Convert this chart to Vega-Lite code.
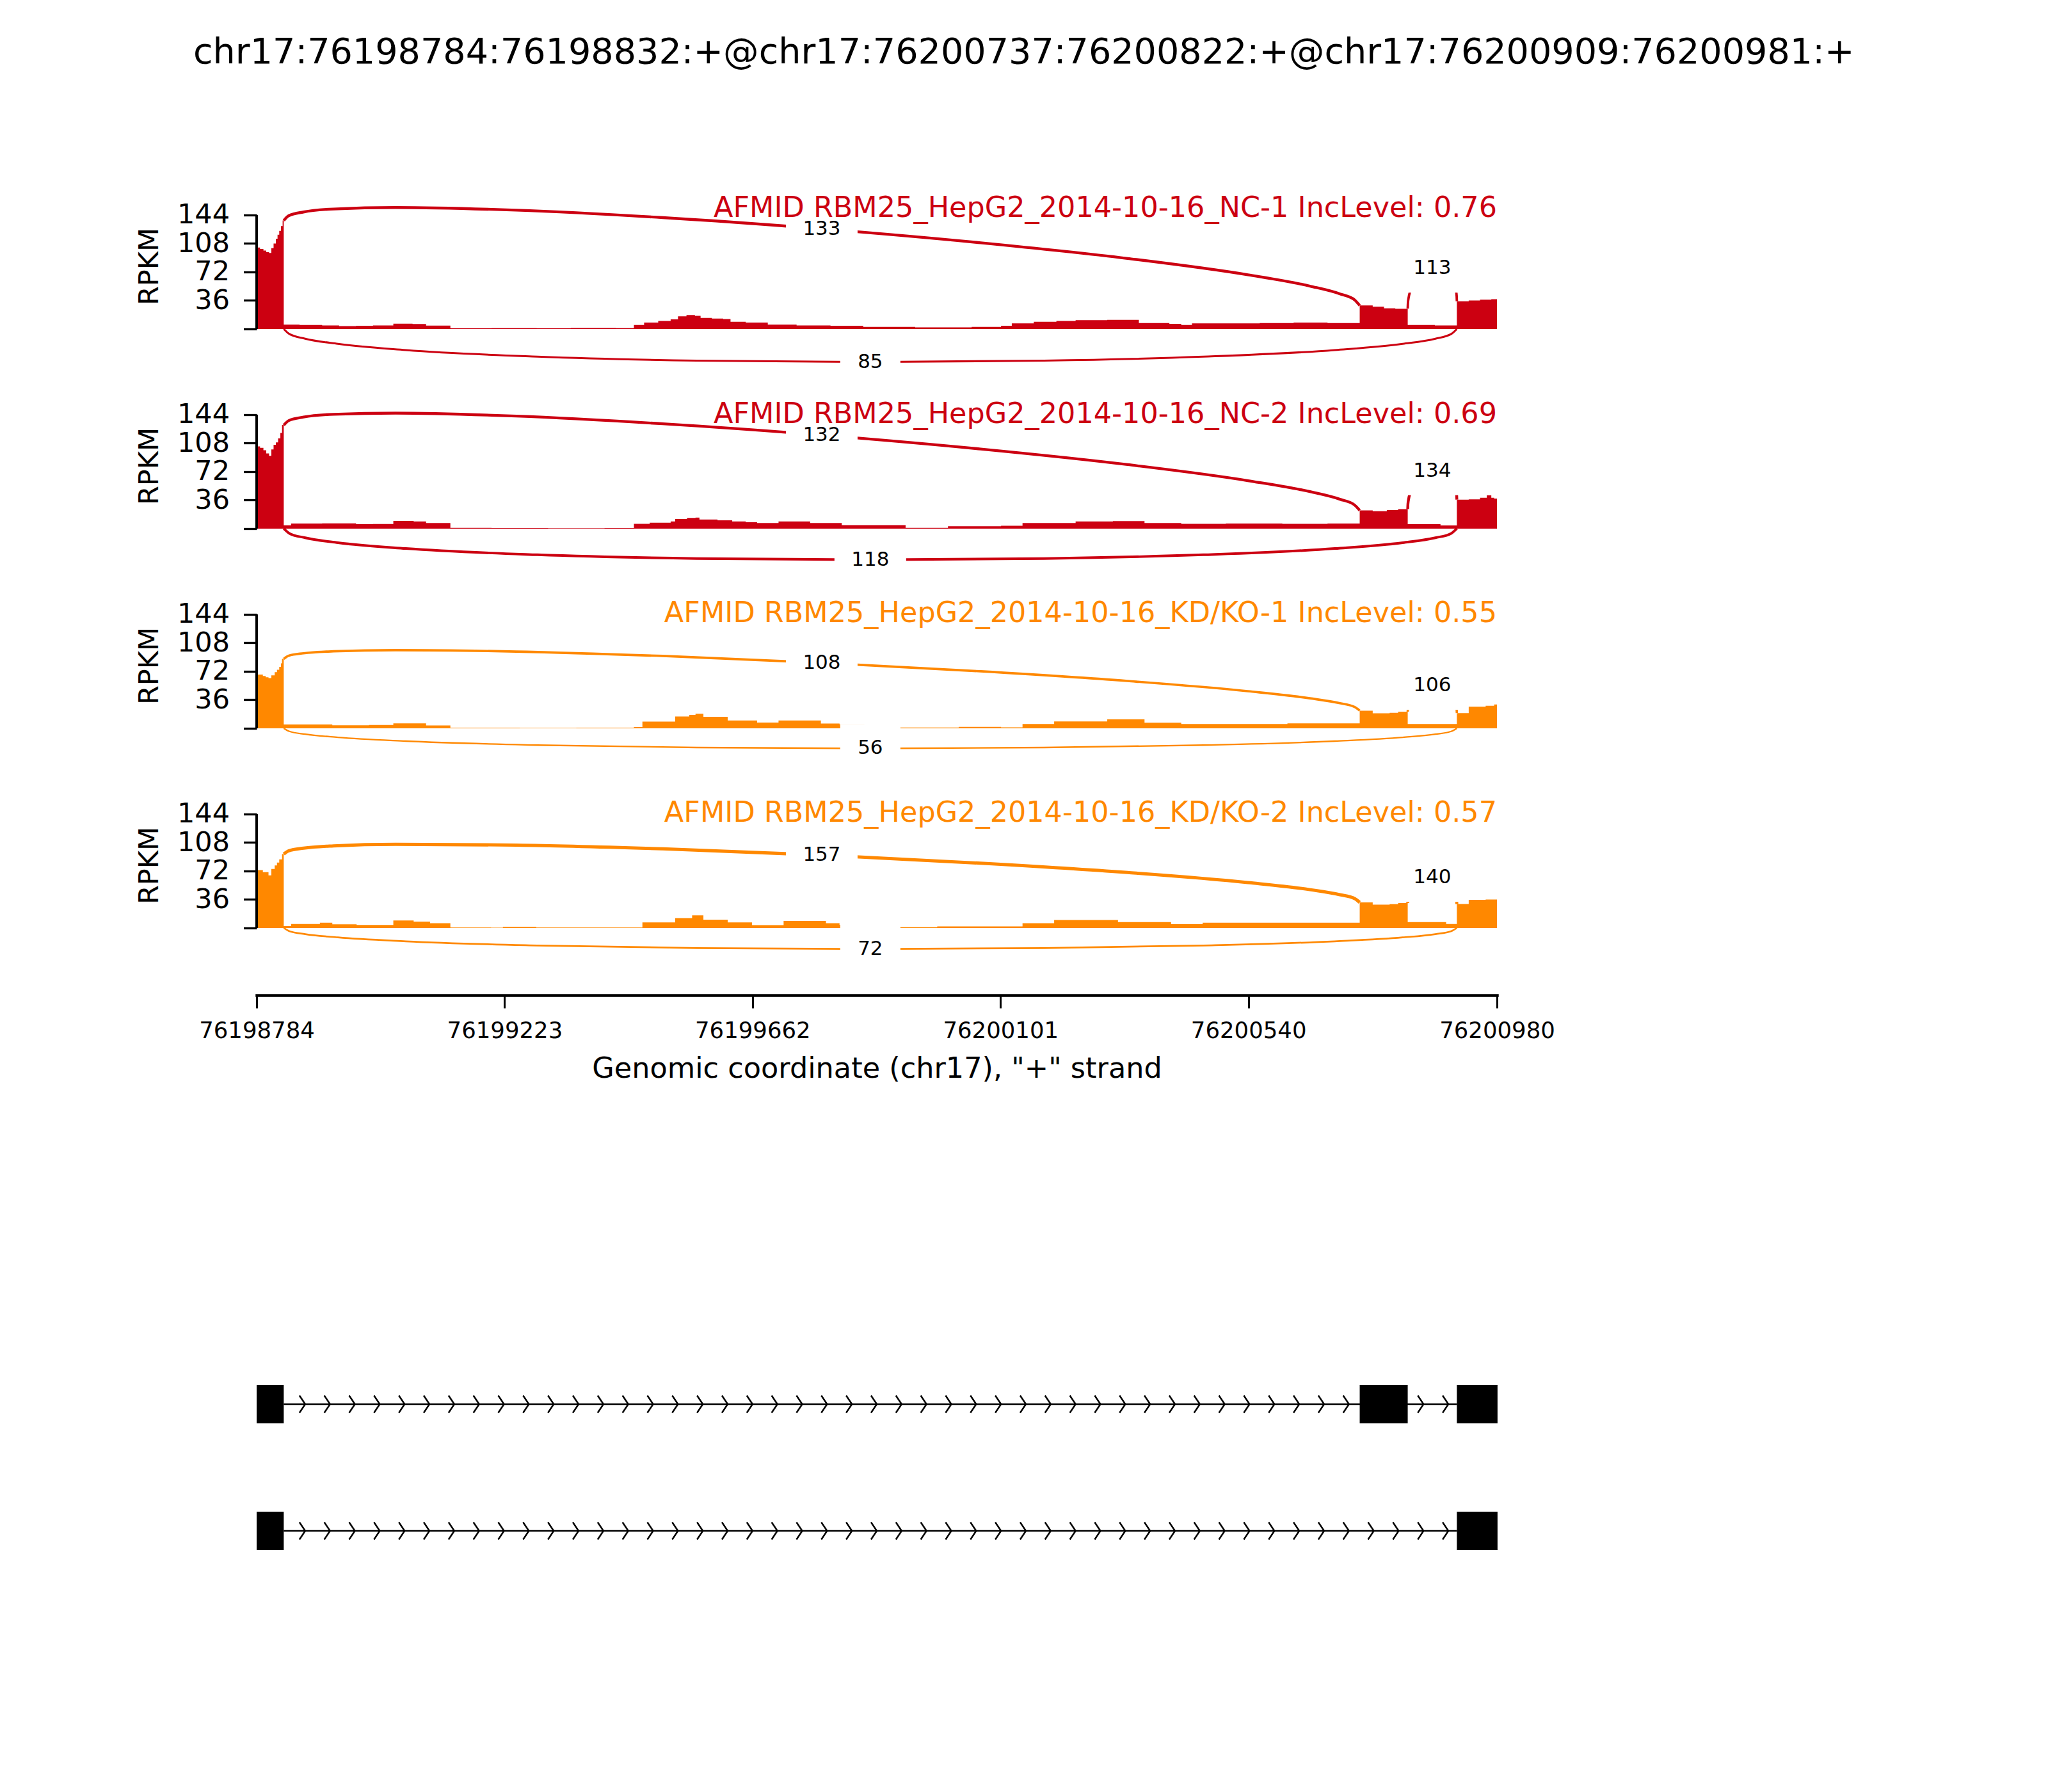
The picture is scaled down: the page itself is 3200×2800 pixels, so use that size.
{
"$schema": "https://vega.github.io/schema/vega-lite/v6.json",
"background": "white",
"padding": {"left": 212, "top": 55, "right": 40, "bottom": 40},
"title": {"text": "chr17:76198784:76198832:+@chr17:76200737:76200822:+@chr17:76200909:76200981:+", "anchor": "start", "frame": "group", "dx": -99, "offset": 148, "baseline": "alphabetic", "fontSize": 55.6, "fontWeight": "normal", "color": "black", "font": "DejaVu Sans"},
"config": {"view": {"stroke": null}, "font": "DejaVu Sans", "axis": {"grid": false, "labelColor": "black", "titleColor": "black", "tickColor": "black", "domainColor": "black", "titleFontWeight": "normal", "labelOverlap": false, "labelLimit": 400, "labelFont": "DejaVu Sans", "titleFont": "DejaVu Sans"}},
"datasets": {
"cov": [
{"s":1,"pos":76198784,"v":103},{"s":1,"pos":76198790,"v":101},{"s":1,"pos":76198796,"v":99},{"s":1,"pos":76198801,"v":97},{"s":1,"pos":76198806,"v":96},{"s":1,"pos":76198810,"v":102},{"s":1,"pos":76198814,"v":108},{"s":1,"pos":76198818,"v":114},{"s":1,"pos":76198821,"v":119},{"s":1,"pos":76198824,"v":124},{"s":1,"pos":76198827,"v":130},{"s":1,"pos":76198830,"v":137},{"s":1,"pos":76198832,"v":5.4},{"s":1,"pos":76198860,"v":5},{"s":1,"pos":76198900,"v":4.5},{"s":1,"pos":76198930,"v":3.5},{"s":1,"pos":76198960,"v":4},{"s":1,"pos":76198990,"v":4.5},{"s":1,"pos":76199026,"v":6.7},{"s":1,"pos":76199060,"v":6.2},{"s":1,"pos":76199084,"v":4.3},{"s":1,"pos":76199127,"v":0.8},{"s":1,"pos":76199200,"v":1},{"s":1,"pos":76199280,"v":0.8},{"s":1,"pos":76199340,"v":1.2},{"s":1,"pos":76199420,"v":1},{"s":1,"pos":76199452,"v":5},{"s":1,"pos":76199470,"v":8},{"s":1,"pos":76199495,"v":10},{"s":1,"pos":76199517,"v":12},{"s":1,"pos":76199530,"v":16},{"s":1,"pos":76199545,"v":17.5},{"s":1,"pos":76199560,"v":16.5},{"s":1,"pos":76199570,"v":14},{"s":1,"pos":76199590,"v":13},{"s":1,"pos":76199610,"v":12.5},{"s":1,"pos":76199623,"v":9},{"s":1,"pos":76199650,"v":8},{"s":1,"pos":76199689,"v":5.5},{"s":1,"pos":76199740,"v":4.5},{"s":1,"pos":76199800,"v":4},{"s":1,"pos":76199858,"v":2.5},{"s":1,"pos":76199950,"v":2},{"s":1,"pos":76200050,"v":2.5},{"s":1,"pos":76200102,"v":4},{"s":1,"pos":76200121,"v":7},{"s":1,"pos":76200160,"v":9},{"s":1,"pos":76200200,"v":10},{"s":1,"pos":76200234,"v":11},{"s":1,"pos":76200290,"v":11.5},{"s":1,"pos":76200346,"v":7.5},{"s":1,"pos":76200400,"v":6.5},{"s":1,"pos":76200421,"v":5},{"s":1,"pos":76200440,"v":7},{"s":1,"pos":76200500,"v":7},{"s":1,"pos":76200560,"v":7.5},{"s":1,"pos":76200620,"v":8},{"s":1,"pos":76200680,"v":7.5},{"s":1,"pos":76200737,"v":29.6},{"s":1,"pos":76200760,"v":28},{"s":1,"pos":76200780,"v":26},{"s":1,"pos":76200800,"v":25.5},{"s":1,"pos":76200822,"v":5},{"s":1,"pos":76200870,"v":4.5},{"s":1,"pos":76200909,"v":35},{"s":1,"pos":76200930,"v":36},{"s":1,"pos":76200950,"v":37},{"s":1,"pos":76200970,"v":37.6},{"s":1,"pos":76200980,"v":37.6},
{"s":2,"pos":76198784,"v":104},{"s":2,"pos":76198790,"v":102},{"s":2,"pos":76198796,"v":99},{"s":2,"pos":76198801,"v":95},{"s":2,"pos":76198806,"v":92},{"s":2,"pos":76198810,"v":100},{"s":2,"pos":76198814,"v":106},{"s":2,"pos":76198818,"v":109},{"s":2,"pos":76198822,"v":114},{"s":2,"pos":76198826,"v":121},{"s":2,"pos":76198829,"v":131},{"s":2,"pos":76198832,"v":4.3},{"s":2,"pos":76198845,"v":6.4},{"s":2,"pos":76198900,"v":6.6},{"s":2,"pos":76198960,"v":5.7},{"s":2,"pos":76198990,"v":5.8},{"s":2,"pos":76199026,"v":9.7},{"s":2,"pos":76199062,"v":9},{"s":2,"pos":76199084,"v":7},{"s":2,"pos":76199127,"v":1},{"s":2,"pos":76199200,"v":0.8},{"s":2,"pos":76199300,"v":0.6},{"s":2,"pos":76199400,"v":0.8},{"s":2,"pos":76199452,"v":6},{"s":2,"pos":76199480,"v":7.5},{"s":2,"pos":76199517,"v":9},{"s":2,"pos":76199525,"v":12},{"s":2,"pos":76199546,"v":13.5},{"s":2,"pos":76199561,"v":14},{"s":2,"pos":76199568,"v":11.5},{"s":2,"pos":76199600,"v":10.5},{"s":2,"pos":76199626,"v":9},{"s":2,"pos":76199650,"v":8},{"s":2,"pos":76199670,"v":7},{"s":2,"pos":76199708,"v":9},{"s":2,"pos":76199764,"v":7},{"s":2,"pos":76199820,"v":4.5},{"s":2,"pos":76199933,"v":1},{"s":2,"pos":76200008,"v":3},{"s":2,"pos":76200102,"v":3.5},{"s":2,"pos":76200140,"v":7},{"s":2,"pos":76200234,"v":9},{"s":2,"pos":76200300,"v":9.5},{"s":2,"pos":76200356,"v":7},{"s":2,"pos":76200421,"v":6},{"s":2,"pos":76200500,"v":6.5},{"s":2,"pos":76200600,"v":6},{"s":2,"pos":76200680,"v":6.5},{"s":2,"pos":76200737,"v":23},{"s":2,"pos":76200760,"v":22},{"s":2,"pos":76200785,"v":23.5},{"s":2,"pos":76200805,"v":24.6},{"s":2,"pos":76200822,"v":5.7},{"s":2,"pos":76200880,"v":4},{"s":2,"pos":76200909,"v":36.6},{"s":2,"pos":76200930,"v":37},{"s":2,"pos":76200950,"v":39},{"s":2,"pos":76200962,"v":42},{"s":2,"pos":76200970,"v":39},{"s":2,"pos":76200975,"v":38},{"s":2,"pos":76200980,"v":38},
{"s":3,"pos":76198784,"v":68},{"s":3,"pos":76198795,"v":66},{"s":3,"pos":76198800,"v":64.5},{"s":3,"pos":76198805,"v":63.5},{"s":3,"pos":76198810,"v":67},{"s":3,"pos":76198816,"v":71},{"s":3,"pos":76198820,"v":74},{"s":3,"pos":76198824,"v":77.6},{"s":3,"pos":76198827,"v":82},{"s":3,"pos":76198829,"v":87.8},{"s":3,"pos":76198832,"v":4.8},{"s":3,"pos":76198918,"v":3.8},{"s":3,"pos":76198983,"v":4.3},{"s":3,"pos":76199026,"v":6.2},{"s":3,"pos":76199084,"v":3.5},{"s":3,"pos":76199127,"v":0.8},{"s":3,"pos":76199250,"v":0.6},{"s":3,"pos":76199350,"v":0.8},{"s":3,"pos":76199452,"v":1.5},{"s":3,"pos":76199467,"v":8.4},{"s":3,"pos":76199525,"v":15},{"s":3,"pos":76199550,"v":17},{"s":3,"pos":76199561,"v":18.3},{"s":3,"pos":76199575,"v":14.5},{"s":3,"pos":76199618,"v":9.9},{"s":3,"pos":76199670,"v":7.2},{"s":3,"pos":76199708,"v":9.9},{"s":3,"pos":76199783,"v":6},{"s":3,"pos":76199816,"v":5},{"s":3,"pos":76199860,"v":3},{"s":3,"pos":76199922,"v":1},{"s":3,"pos":76200027,"v":1.7},{"s":3,"pos":76200102,"v":1.2},{"s":3,"pos":76200140,"v":5.4},{"s":3,"pos":76200196,"v":8.6},{"s":3,"pos":76200290,"v":11.3},{"s":3,"pos":76200356,"v":7},{"s":3,"pos":76200421,"v":5.4},{"s":3,"pos":76200609,"v":6.3},{"s":3,"pos":76200737,"v":22.3},{"s":3,"pos":76200760,"v":19},{"s":3,"pos":76200790,"v":19.5},{"s":3,"pos":76200805,"v":21},{"s":3,"pos":76200822,"v":5.4},{"s":3,"pos":76200909,"v":19.2},{"s":3,"pos":76200930,"v":27.2},{"s":3,"pos":76200960,"v":28.5},{"s":3,"pos":76200975,"v":30},{"s":3,"pos":76200980,"v":30},
{"s":4,"pos":76198784,"v":73.2},{"s":4,"pos":76198795,"v":70.5},{"s":4,"pos":76198805,"v":66.5},{"s":4,"pos":76198810,"v":74.6},{"s":4,"pos":76198816,"v":79},{"s":4,"pos":76198820,"v":82.6},{"s":4,"pos":76198824,"v":86.7},{"s":4,"pos":76198829,"v":93.4},{"s":4,"pos":76198832,"v":2.4},{"s":4,"pos":76198845,"v":5.1},{"s":4,"pos":76198896,"v":6.7},{"s":4,"pos":76198918,"v":4.6},{"s":4,"pos":76198961,"v":3.8},{"s":4,"pos":76199026,"v":9.4},{"s":4,"pos":76199062,"v":8},{"s":4,"pos":76199091,"v":6},{"s":4,"pos":76199127,"v":0.5},{"s":4,"pos":76199199,"v":0.3},{"s":4,"pos":76199220,"v":1.3},{"s":4,"pos":76199279,"v":0.5},{"s":4,"pos":76199452,"v":0.5},{"s":4,"pos":76199467,"v":7},{"s":4,"pos":76199525,"v":12.4},{"s":4,"pos":76199555,"v":15.9},{"s":4,"pos":76199575,"v":10.5},{"s":4,"pos":76199618,"v":7},{"s":4,"pos":76199661,"v":3.5},{"s":4,"pos":76199717,"v":8.8},{"s":4,"pos":76199792,"v":6},{"s":4,"pos":76199816,"v":4},{"s":4,"pos":76199922,"v":1},{"s":4,"pos":76199989,"v":2},{"s":4,"pos":76200140,"v":6},{"s":4,"pos":76200196,"v":10},{"s":4,"pos":76200309,"v":7.5},{"s":4,"pos":76200403,"v":4.8},{"s":4,"pos":76200459,"v":6.6},{"s":4,"pos":76200737,"v":32.3},{"s":4,"pos":76200760,"v":29.4},{"s":4,"pos":76200790,"v":30},{"s":4,"pos":76200805,"v":31.5},{"s":4,"pos":76200822,"v":7.5},{"s":4,"pos":76200890,"v":5},{"s":4,"pos":76200909,"v":30.2},{"s":4,"pos":76200930,"v":35.5},{"s":4,"pos":76200960,"v":36},{"s":4,"pos":76200980,"v":36}
],
"arcs": [
{"s":1,"j":"A","n":133,"t":0,"pos":76198832,"y":137},{"s":1,"j":"A","n":133,"t":0.04,"pos":76198841,"y":143.1},{"s":1,"j":"A","n":133,"t":0.08,"pos":76198867,"y":147.8},{"s":1,"j":"A","n":133,"t":0.13,"pos":76198920,"y":151.6},{"s":1,"j":"A","n":133,"t":0.2,"pos":76199030,"y":153.5},{"s":1,"j":"A","n":133,"t":0.3,"pos":76199244,"y":150.1},{"s":1,"j":"A","n":133,"t":0.4,"pos":76199503,"y":140.7},{"s":1,"j":"A","n":133,"t":0.5,"pos":76199784.5,"y":126.5},{"s":1,"j":"A","n":133,"t":0.6,"pos":76200066,"y":108.9},{"s":1,"j":"A","n":133,"t":0.7,"pos":76200326,"y":89.1},{"s":1,"j":"A","n":133,"t":0.8,"pos":76200539,"y":68.4},{"s":1,"j":"A","n":133,"t":0.87,"pos":76200649,"y":54.1},{"s":1,"j":"A","n":133,"t":0.92,"pos":76200702,"y":44.3},{"s":1,"j":"A","n":133,"t":0.96,"pos":76200728,"y":36.7},{"s":1,"j":"A","n":133,"t":1,"pos":76200737,"y":29.6},
{"s":1,"j":"B","n":85,"t":0,"pos":76198832,"y":0},{"s":1,"j":"B","n":85,"t":0.04,"pos":76198842,"y":-6.42},{"s":1,"j":"B","n":85,"t":0.08,"pos":76198870,"y":-12.3},{"s":1,"j":"B","n":85,"t":0.13,"pos":76198928,"y":-18.9},{"s":1,"j":"B","n":85,"t":0.2,"pos":76199048,"y":-26.74},{"s":1,"j":"B","n":85,"t":0.3,"pos":76199281,"y":-35.09},{"s":1,"j":"B","n":85,"t":0.4,"pos":76199563,"y":-40.1},{"s":1,"j":"B","n":85,"t":0.5,"pos":76199870.5,"y":-41.78},{"s":1,"j":"B","n":85,"t":0.6,"pos":76200178,"y":-40.1},{"s":1,"j":"B","n":85,"t":0.7,"pos":76200460,"y":-35.09},{"s":1,"j":"B","n":85,"t":0.8,"pos":76200693,"y":-26.74},{"s":1,"j":"B","n":85,"t":0.87,"pos":76200813,"y":-18.9},{"s":1,"j":"B","n":85,"t":0.92,"pos":76200871,"y":-12.3},{"s":1,"j":"B","n":85,"t":0.96,"pos":76200899,"y":-6.42},{"s":1,"j":"B","n":85,"t":1,"pos":76200909,"y":0},
{"s":1,"j":"C","n":113,"t":0,"pos":76200822,"y":25.6},{"s":1,"j":"C","n":113,"t":0.04,"pos":76200822.4,"y":32.8},{"s":1,"j":"C","n":113,"t":0.08,"pos":76200823.6,"y":39.4},{"s":1,"j":"C","n":113,"t":0.13,"pos":76200826,"y":47},{"s":1,"j":"C","n":113,"t":0.2,"pos":76200831,"y":56.3},{"s":1,"j":"C","n":113,"t":0.3,"pos":76200840.8,"y":66.6},{"s":1,"j":"C","n":113,"t":0.5,"pos":76200865.5,"y":76.7},{"s":1,"j":"C","n":113,"t":0.7,"pos":76200890.2,"y":72},{"s":1,"j":"C","n":113,"t":0.8,"pos":76200900,"y":63.7},{"s":1,"j":"C","n":113,"t":0.87,"pos":76200905,"y":55.6},{"s":1,"j":"C","n":113,"t":0.92,"pos":76200907.4,"y":48.5},{"s":1,"j":"C","n":113,"t":0.96,"pos":76200908.6,"y":42.1},{"s":1,"j":"C","n":113,"t":1,"pos":76200909,"y":35},
{"s":2,"j":"A","n":132,"t":0,"pos":76198832,"y":130.8},{"s":2,"j":"A","n":132,"t":0.04,"pos":76198841,"y":136.6},{"s":2,"j":"A","n":132,"t":0.08,"pos":76198867,"y":141},{"s":2,"j":"A","n":132,"t":0.13,"pos":76198920,"y":144.5},{"s":2,"j":"A","n":132,"t":0.2,"pos":76199030,"y":146},{"s":2,"j":"A","n":132,"t":0.3,"pos":76199244,"y":142.2},{"s":2,"j":"A","n":132,"t":0.4,"pos":76199503,"y":132.5},{"s":2,"j":"A","n":132,"t":0.5,"pos":76199784.5,"y":118.2},{"s":2,"j":"A","n":132,"t":0.6,"pos":76200066,"y":100.6},{"s":2,"j":"A","n":132,"t":0.7,"pos":76200326,"y":80.9},{"s":2,"j":"A","n":132,"t":0.8,"pos":76200539,"y":60.6},{"s":2,"j":"A","n":132,"t":0.87,"pos":76200649,"y":46.7},{"s":2,"j":"A","n":132,"t":0.92,"pos":76200702,"y":37.1},{"s":2,"j":"A","n":132,"t":0.96,"pos":76200728,"y":29.8},{"s":2,"j":"A","n":132,"t":1,"pos":76200737,"y":23},
{"s":2,"j":"B","n":118,"t":0,"pos":76198832,"y":0},{"s":2,"j":"B","n":118,"t":0.04,"pos":76198842,"y":-6.05},{"s":2,"j":"B","n":118,"t":0.08,"pos":76198870,"y":-11.59},{"s":2,"j":"B","n":118,"t":0.13,"pos":76198928,"y":-17.81},{"s":2,"j":"B","n":118,"t":0.2,"pos":76199048,"y":-25.2},{"s":2,"j":"B","n":118,"t":0.3,"pos":76199281,"y":-33.08},{"s":2,"j":"B","n":118,"t":0.4,"pos":76199563,"y":-37.8},{"s":2,"j":"B","n":118,"t":0.5,"pos":76199870.5,"y":-39.38},{"s":2,"j":"B","n":118,"t":0.6,"pos":76200178,"y":-37.8},{"s":2,"j":"B","n":118,"t":0.7,"pos":76200460,"y":-33.08},{"s":2,"j":"B","n":118,"t":0.8,"pos":76200693,"y":-25.2},{"s":2,"j":"B","n":118,"t":0.87,"pos":76200813,"y":-17.81},{"s":2,"j":"B","n":118,"t":0.92,"pos":76200871,"y":-11.59},{"s":2,"j":"B","n":118,"t":0.96,"pos":76200899,"y":-6.05},{"s":2,"j":"B","n":118,"t":1,"pos":76200909,"y":0},
{"s":2,"j":"C","n":134,"t":0,"pos":76200822,"y":24.6},{"s":2,"j":"C","n":134,"t":0.04,"pos":76200822.4,"y":31.2},{"s":2,"j":"C","n":134,"t":0.08,"pos":76200823.6,"y":37.3},{"s":2,"j":"C","n":134,"t":0.13,"pos":76200826,"y":44.3},{"s":2,"j":"C","n":134,"t":0.2,"pos":76200831,"y":52.9},{"s":2,"j":"C","n":134,"t":0.3,"pos":76200840.8,"y":62.7},{"s":2,"j":"C","n":134,"t":0.5,"pos":76200865.5,"y":72.9},{"s":2,"j":"C","n":134,"t":0.7,"pos":76200890.2,"y":69.5},{"s":2,"j":"C","n":134,"t":0.8,"pos":76200900,"y":62.4},{"s":2,"j":"C","n":134,"t":0.87,"pos":76200905,"y":55.2},{"s":2,"j":"C","n":134,"t":0.92,"pos":76200907.4,"y":48.8},{"s":2,"j":"C","n":134,"t":0.96,"pos":76200908.6,"y":43},{"s":2,"j":"C","n":134,"t":1,"pos":76200909,"y":36.6},
{"s":3,"j":"A","n":108,"t":0,"pos":76198832,"y":87.8},{"s":3,"j":"A","n":108,"t":0.04,"pos":76198841,"y":91.8},{"s":3,"j":"A","n":108,"t":0.08,"pos":76198867,"y":94.8},{"s":3,"j":"A","n":108,"t":0.13,"pos":76198920,"y":97.3},{"s":3,"j":"A","n":108,"t":0.2,"pos":76199030,"y":98.8},{"s":3,"j":"A","n":108,"t":0.3,"pos":76199244,"y":97},{"s":3,"j":"A","n":108,"t":0.4,"pos":76199503,"y":91.4},{"s":3,"j":"A","n":108,"t":0.5,"pos":76199784.5,"y":82.8},{"s":3,"j":"A","n":108,"t":0.6,"pos":76200066,"y":72},{"s":3,"j":"A","n":108,"t":0.7,"pos":76200326,"y":59.8},{"s":3,"j":"A","n":108,"t":0.8,"pos":76200539,"y":46.9},{"s":3,"j":"A","n":108,"t":0.87,"pos":76200649,"y":37.9},{"s":3,"j":"A","n":108,"t":0.92,"pos":76200702,"y":31.7},{"s":3,"j":"A","n":108,"t":0.96,"pos":76200728,"y":26.9},{"s":3,"j":"A","n":108,"t":1,"pos":76200737,"y":22.3},
{"s":3,"j":"B","n":56,"t":0,"pos":76198832,"y":0},{"s":3,"j":"B","n":56,"t":0.04,"pos":76198842,"y":-3.89},{"s":3,"j":"B","n":56,"t":0.08,"pos":76198870,"y":-7.46},{"s":3,"j":"B","n":56,"t":0.13,"pos":76198928,"y":-11.47},{"s":3,"j":"B","n":56,"t":0.2,"pos":76199048,"y":-16.22},{"s":3,"j":"B","n":56,"t":0.3,"pos":76199281,"y":-21.29},{"s":3,"j":"B","n":56,"t":0.4,"pos":76199563,"y":-24.34},{"s":3,"j":"B","n":56,"t":0.5,"pos":76199870.5,"y":-25.35},{"s":3,"j":"B","n":56,"t":0.6,"pos":76200178,"y":-24.34},{"s":3,"j":"B","n":56,"t":0.7,"pos":76200460,"y":-21.29},{"s":3,"j":"B","n":56,"t":0.8,"pos":76200693,"y":-16.22},{"s":3,"j":"B","n":56,"t":0.87,"pos":76200813,"y":-11.47},{"s":3,"j":"B","n":56,"t":0.92,"pos":76200871,"y":-7.46},{"s":3,"j":"B","n":56,"t":0.96,"pos":76200899,"y":-3.89},{"s":3,"j":"B","n":56,"t":1,"pos":76200909,"y":0},
{"s":3,"j":"C","n":106,"t":0,"pos":76200822,"y":21},{"s":3,"j":"C","n":106,"t":0.04,"pos":76200822.4,"y":26.2},{"s":3,"j":"C","n":106,"t":0.08,"pos":76200823.6,"y":31},{"s":3,"j":"C","n":106,"t":0.13,"pos":76200826,"y":36.3},{"s":3,"j":"C","n":106,"t":0.2,"pos":76200831,"y":42.6},{"s":3,"j":"C","n":106,"t":0.3,"pos":76200840.8,"y":49.2},{"s":3,"j":"C","n":106,"t":0.5,"pos":76200865.5,"y":54.1},{"s":3,"j":"C","n":106,"t":0.7,"pos":76200890.2,"y":48.1},{"s":3,"j":"C","n":106,"t":0.8,"pos":76200900,"y":41.1},{"s":3,"j":"C","n":106,"t":0.87,"pos":76200905,"y":34.7},{"s":3,"j":"C","n":106,"t":0.92,"pos":76200907.4,"y":29.2},{"s":3,"j":"C","n":106,"t":0.96,"pos":76200908.6,"y":24.4},{"s":3,"j":"C","n":106,"t":1,"pos":76200909,"y":19.2},
{"s":4,"j":"A","n":157,"t":0,"pos":76198832,"y":93.4},{"s":4,"j":"A","n":157,"t":0.04,"pos":76198841,"y":97.6},{"s":4,"j":"A","n":157,"t":0.08,"pos":76198867,"y":100.9},{"s":4,"j":"A","n":157,"t":0.13,"pos":76198920,"y":103.8},{"s":4,"j":"A","n":157,"t":0.2,"pos":76199030,"y":105.8},{"s":4,"j":"A","n":157,"t":0.3,"pos":76199244,"y":104.8},{"s":4,"j":"A","n":157,"t":0.4,"pos":76199503,"y":100},{"s":4,"j":"A","n":157,"t":0.5,"pos":76199784.5,"y":92.1},{"s":4,"j":"A","n":157,"t":0.6,"pos":76200066,"y":81.9},{"s":4,"j":"A","n":157,"t":0.7,"pos":76200326,"y":70.1},{"s":4,"j":"A","n":157,"t":0.8,"pos":76200539,"y":57.4},{"s":4,"j":"A","n":157,"t":0.87,"pos":76200649,"y":48.4},{"s":4,"j":"A","n":157,"t":0.92,"pos":76200702,"y":42},{"s":4,"j":"A","n":157,"t":0.96,"pos":76200728,"y":37.1},{"s":4,"j":"A","n":157,"t":1,"pos":76200737,"y":32.3},
{"s":4,"j":"B","n":72,"t":0,"pos":76198832,"y":0},{"s":4,"j":"B","n":72,"t":0.04,"pos":76198842,"y":-4.06},{"s":4,"j":"B","n":72,"t":0.08,"pos":76198870,"y":-7.77},{"s":4,"j":"B","n":72,"t":0.13,"pos":76198928,"y":-11.94},{"s":4,"j":"B","n":72,"t":0.2,"pos":76199048,"y":-16.9},{"s":4,"j":"B","n":72,"t":0.3,"pos":76199281,"y":-22.18},{"s":4,"j":"B","n":72,"t":0.4,"pos":76199563,"y":-25.34},{"s":4,"j":"B","n":72,"t":0.5,"pos":76199870.5,"y":-26.4},{"s":4,"j":"B","n":72,"t":0.6,"pos":76200178,"y":-25.34},{"s":4,"j":"B","n":72,"t":0.7,"pos":76200460,"y":-22.18},{"s":4,"j":"B","n":72,"t":0.8,"pos":76200693,"y":-16.9},{"s":4,"j":"B","n":72,"t":0.87,"pos":76200813,"y":-11.94},{"s":4,"j":"B","n":72,"t":0.92,"pos":76200871,"y":-7.77},{"s":4,"j":"B","n":72,"t":0.96,"pos":76200899,"y":-4.06},{"s":4,"j":"B","n":72,"t":1,"pos":76200909,"y":0},
{"s":4,"j":"C","n":140,"t":0,"pos":76200822,"y":31.5},{"s":4,"j":"C","n":140,"t":0.04,"pos":76200822.4,"y":36.6},{"s":4,"j":"C","n":140,"t":0.08,"pos":76200823.6,"y":41.2},{"s":4,"j":"C","n":140,"t":0.13,"pos":76200826,"y":46.3},{"s":4,"j":"C","n":140,"t":0.2,"pos":76200831,"y":52.4},{"s":4,"j":"C","n":140,"t":0.3,"pos":76200840.8,"y":58.9},{"s":4,"j":"C","n":140,"t":0.5,"pos":76200865.5,"y":63.8},{"s":4,"j":"C","n":140,"t":0.7,"pos":76200890.2,"y":58.1},{"s":4,"j":"C","n":140,"t":0.8,"pos":76200900,"y":51.4},{"s":4,"j":"C","n":140,"t":0.87,"pos":76200905,"y":45.2},{"s":4,"j":"C","n":140,"t":0.92,"pos":76200907.4,"y":39.9},{"s":4,"j":"C","n":140,"t":0.96,"pos":76200908.6,"y":35.3},{"s":4,"j":"C","n":140,"t":1,"pos":76200909,"y":30.2}
],
"exons": [
{"tx":"T1","start":76198784,"end":76198832},{"tx":"T1","start":76200737,"end":76200822},{"tx":"T1","start":76200909,"end":76200981},
{"tx":"T2","start":76198784,"end":76198832},{"tx":"T2","start":76200909,"end":76200981}
],
"introns": [
{"tx":"T1","start":76198832,"end":76200909},{"tx":"T2","start":76198832,"end":76200909}
],
"chev": [
{"pos":76198870},{"pos":76198914},{"pos":76198958},{"pos":76199002},{"pos":76199046},{"pos":76199090},{"pos":76199134},{"pos":76199178},{"pos":76199222},{"pos":76199266},{"pos":76199310},{"pos":76199354},{"pos":76199398},{"pos":76199442},{"pos":76199486},{"pos":76199530},{"pos":76199574},{"pos":76199618},{"pos":76199662},{"pos":76199706},{"pos":76199750},{"pos":76199794},{"pos":76199838},{"pos":76199882},{"pos":76199926},{"pos":76199970},{"pos":76200014},{"pos":76200058},{"pos":76200102},{"pos":76200146},{"pos":76200190},{"pos":76200234},{"pos":76200278},{"pos":76200322},{"pos":76200366},{"pos":76200410},{"pos":76200454},{"pos":76200498},{"pos":76200542},{"pos":76200586},{"pos":76200630},{"pos":76200674},{"pos":76200718},{"pos":76200762},{"pos":76200806},{"pos":76200850},{"pos":76200894}
]
},
"spacing": 403,
"resolve": {"scale": {"y": "independent"}},
"vconcat": [
{
"spacing": 3,
"bounds": "flush",
"resolve": {"scale": {"y": "independent"}},
"vconcat": [
{
"width": 1938, "height": 309,
"layer": [
{"data": {"name": "cov"}, "transform": [{"filter": "datum.s == 1"}], "mark": {"type": "area", "interpolate": "step-after", "color": "#CC0011", "opacity": 1},
 "encoding": {"x": {"field": "pos", "type": "quantitative", "scale": {"domain": [76198784, 76200980], "nice": false, "zero": false}, "axis": null},
  "y": {"field": "v", "type": "quantitative", "scale": {"domain": [-85, 165], "nice": false, "zero": false}, "axis": {"values": [0, 36, 72, 108, 144], "labelExpr": "datum.value == 0 ? '' : datum.label", "domain": false, "tickSize": 20.5, "tickWidth": 3.3, "labelFontSize": 43, "labelPadding": 22, "title": "RPKM", "titleFontSize": 43, "titleX": -155, "titleY": 106, "titleBaseline": "alphabetic"}},
  "y2": {"datum": 0}}},
{"data": {"name": "arcs"}, "transform": [{"filter": "datum.s == 1"}], "mark": {"type": "line", "interpolate": "monotone", "color": "#CC0011"},
 "encoding": {"x": {"field": "pos", "type": "quantitative", "axis": null}, "y": {"field": "y", "type": "quantitative"}, "detail": {"field": "j", "type": "nominal"}, "strokeWidth": {"field": "n", "type": "quantitative", "scale": {"domain": [0, 160], "range": [0.8, 5.1]}, "legend": null}}},
{"data": {"name": "arcs"}, "transform": [{"filter": "datum.s == 1 && datum.t == 0.5 && datum.n >= 100"}], "mark": {"type": "point", "shape": "M-1,-0.679H1V0.679H-1Z", "size": 12544, "filled": true, "color": "white", "opacity": 1, "strokeWidth": 0},
 "encoding": {"x": {"field": "pos", "type": "quantitative", "axis": null}, "y": {"field": "y", "type": "quantitative"}}},
{"data": {"name": "arcs"}, "transform": [{"filter": "datum.s == 1 && datum.t == 0.5 && datum.n < 100"}], "mark": {"type": "point", "shape": "M-1,-0.809H1V0.809H-1Z", "size": 8836, "filled": true, "color": "white", "opacity": 1, "strokeWidth": 0},
 "encoding": {"x": {"field": "pos", "type": "quantitative", "axis": null}, "y": {"field": "y", "type": "quantitative"}}},
{"data": {"name": "arcs"}, "transform": [{"filter": "datum.s == 1 && datum.t == 0.5"}], "mark": {"type": "text", "fontSize": 31, "color": "black", "align": "center", "baseline": "middle"},
 "encoding": {"x": {"field": "pos", "type": "quantitative", "axis": null}, "y": {"field": "y", "type": "quantitative"}, "text": {"field": "n", "type": "nominal"}}},
{"data": {"values": [{}]}, "mark": {"type": "text", "text": "AFMID RBM25_HepG2_2014-10-16_NC-1 IncLevel: 0.76", "fontSize": 44.5, "color": "#CC0011", "align": "right", "baseline": "alphabetic"},
 "encoding": {"x": {"datum": 76200980, "type": "quantitative", "axis": null}, "y": {"datum": 141.6, "type": "quantitative"}}},
{"data": {"values": [{}]}, "mark": {"type": "rule", "strokeWidth": 4, "color": "black"},
 "encoding": {"x": {"datum": 76198784, "type": "quantitative", "axis": null}, "y": {"datum": 0, "type": "quantitative"}, "y2": {"datum": 144}}}
]
},
{
"width": 1938, "height": 309,
"layer": [
{"data": {"name": "cov"}, "transform": [{"filter": "datum.s == 2"}], "mark": {"type": "area", "interpolate": "step-after", "color": "#CC0011", "opacity": 1},
 "encoding": {"x": {"field": "pos", "type": "quantitative", "scale": {"domain": [76198784, 76200980], "nice": false, "zero": false}, "axis": null},
  "y": {"field": "v", "type": "quantitative", "scale": {"domain": [-85, 165], "nice": false, "zero": false}, "axis": {"values": [0, 36, 72, 108, 144], "labelExpr": "datum.value == 0 ? '' : datum.label", "domain": false, "tickSize": 20.5, "tickWidth": 3.3, "labelFontSize": 43, "labelPadding": 22, "title": "RPKM", "titleFontSize": 43, "titleX": -155, "titleY": 106, "titleBaseline": "alphabetic"}},
  "y2": {"datum": 0}}},
{"data": {"name": "arcs"}, "transform": [{"filter": "datum.s == 2"}], "mark": {"type": "line", "interpolate": "monotone", "color": "#CC0011"},
 "encoding": {"x": {"field": "pos", "type": "quantitative", "axis": null}, "y": {"field": "y", "type": "quantitative"}, "detail": {"field": "j", "type": "nominal"}, "strokeWidth": {"field": "n", "type": "quantitative", "scale": {"domain": [0, 160], "range": [0.8, 5.1]}, "legend": null}}},
{"data": {"name": "arcs"}, "transform": [{"filter": "datum.s == 2 && datum.t == 0.5 && datum.n >= 100"}], "mark": {"type": "point", "shape": "M-1,-0.679H1V0.679H-1Z", "size": 12544, "filled": true, "color": "white", "opacity": 1, "strokeWidth": 0},
 "encoding": {"x": {"field": "pos", "type": "quantitative", "axis": null}, "y": {"field": "y", "type": "quantitative"}}},
{"data": {"name": "arcs"}, "transform": [{"filter": "datum.s == 2 && datum.t == 0.5 && datum.n < 100"}], "mark": {"type": "point", "shape": "M-1,-0.809H1V0.809H-1Z", "size": 8836, "filled": true, "color": "white", "opacity": 1, "strokeWidth": 0},
 "encoding": {"x": {"field": "pos", "type": "quantitative", "axis": null}, "y": {"field": "y", "type": "quantitative"}}},
{"data": {"name": "arcs"}, "transform": [{"filter": "datum.s == 2 && datum.t == 0.5"}], "mark": {"type": "text", "fontSize": 31, "color": "black", "align": "center", "baseline": "middle"},
 "encoding": {"x": {"field": "pos", "type": "quantitative", "axis": null}, "y": {"field": "y", "type": "quantitative"}, "text": {"field": "n", "type": "nominal"}}},
{"data": {"values": [{}]}, "mark": {"type": "text", "text": "AFMID RBM25_HepG2_2014-10-16_NC-2 IncLevel: 0.69", "fontSize": 44.5, "color": "#CC0011", "align": "right", "baseline": "alphabetic"},
 "encoding": {"x": {"datum": 76200980, "type": "quantitative", "axis": null}, "y": {"datum": 133.7, "type": "quantitative"}}},
{"data": {"values": [{}]}, "mark": {"type": "rule", "strokeWidth": 4, "color": "black"},
 "encoding": {"x": {"datum": 76198784, "type": "quantitative", "axis": null}, "y": {"datum": 0, "type": "quantitative"}, "y2": {"datum": 144}}}
]
},
{
"width": 1938, "height": 309,
"layer": [
{"data": {"name": "cov"}, "transform": [{"filter": "datum.s == 3"}], "mark": {"type": "area", "interpolate": "step-after", "color": "#FF8800", "opacity": 1},
 "encoding": {"x": {"field": "pos", "type": "quantitative", "scale": {"domain": [76198784, 76200980], "nice": false, "zero": false}, "axis": null},
  "y": {"field": "v", "type": "quantitative", "scale": {"domain": [-85, 165], "nice": false, "zero": false}, "axis": {"values": [0, 36, 72, 108, 144], "labelExpr": "datum.value == 0 ? '' : datum.label", "domain": false, "tickSize": 20.5, "tickWidth": 3.3, "labelFontSize": 43, "labelPadding": 22, "title": "RPKM", "titleFontSize": 43, "titleX": -155, "titleY": 106, "titleBaseline": "alphabetic"}},
  "y2": {"datum": 0}}},
{"data": {"name": "arcs"}, "transform": [{"filter": "datum.s == 3"}], "mark": {"type": "line", "interpolate": "monotone", "color": "#FF8800"},
 "encoding": {"x": {"field": "pos", "type": "quantitative", "axis": null}, "y": {"field": "y", "type": "quantitative"}, "detail": {"field": "j", "type": "nominal"}, "strokeWidth": {"field": "n", "type": "quantitative", "scale": {"domain": [0, 160], "range": [0.8, 5.1]}, "legend": null}}},
{"data": {"name": "arcs"}, "transform": [{"filter": "datum.s == 3 && datum.t == 0.5 && datum.n >= 100"}], "mark": {"type": "point", "shape": "M-1,-0.679H1V0.679H-1Z", "size": 12544, "filled": true, "color": "white", "opacity": 1, "strokeWidth": 0},
 "encoding": {"x": {"field": "pos", "type": "quantitative", "axis": null}, "y": {"field": "y", "type": "quantitative"}}},
{"data": {"name": "arcs"}, "transform": [{"filter": "datum.s == 3 && datum.t == 0.5 && datum.n < 100"}], "mark": {"type": "point", "shape": "M-1,-0.809H1V0.809H-1Z", "size": 8836, "filled": true, "color": "white", "opacity": 1, "strokeWidth": 0},
 "encoding": {"x": {"field": "pos", "type": "quantitative", "axis": null}, "y": {"field": "y", "type": "quantitative"}}},
{"data": {"name": "arcs"}, "transform": [{"filter": "datum.s == 3 && datum.t == 0.5"}], "mark": {"type": "text", "fontSize": 31, "color": "black", "align": "center", "baseline": "middle"},
 "encoding": {"x": {"field": "pos", "type": "quantitative", "axis": null}, "y": {"field": "y", "type": "quantitative"}, "text": {"field": "n", "type": "nominal"}}},
{"data": {"values": [{}]}, "mark": {"type": "text", "text": "AFMID RBM25_HepG2_2014-10-16_KD/KO-1 IncLevel: 0.55", "fontSize": 44.5, "color": "#FF8800", "align": "right", "baseline": "alphabetic"},
 "encoding": {"x": {"datum": 76200980, "type": "quantitative", "axis": null}, "y": {"datum": 134, "type": "quantitative"}}},
{"data": {"values": [{}]}, "mark": {"type": "rule", "strokeWidth": 4, "color": "black"},
 "encoding": {"x": {"datum": 76198784, "type": "quantitative", "axis": null}, "y": {"datum": 0, "type": "quantitative"}, "y2": {"datum": 144}}}
]
},
{
"width": 1938, "height": 309,
"layer": [
{"data": {"name": "cov"}, "transform": [{"filter": "datum.s == 4"}], "mark": {"type": "area", "interpolate": "step-after", "color": "#FF8800", "opacity": 1},
 "encoding": {"x": {"field": "pos", "type": "quantitative", "scale": {"domain": [76198784, 76200980], "nice": false, "zero": false}, "axis": {"values": [76198784, 76199223, 76199662, 76200101, 76200540, 76200980], "format": "d", "labelFontSize": 35.5, "labelPadding": 18, "labelFlush": false, "labelLimit": 400, "tickSize": 20, "tickWidth": 3, "domainWidth": 4.5, "domainCap": "square", "title": "Genomic coordinate (chr17), \"+\" strand", "titleFontSize": 44.6, "titleBaseline": "alphabetic", "titleY": 128}},
  "y": {"field": "v", "type": "quantitative", "scale": {"domain": [-85, 165], "nice": false, "zero": false}, "axis": {"values": [0, 36, 72, 108, 144], "labelExpr": "datum.value == 0 ? '' : datum.label", "domain": false, "tickSize": 20.5, "tickWidth": 3.3, "labelFontSize": 43, "labelPadding": 22, "title": "RPKM", "titleFontSize": 43, "titleX": -155, "titleY": 106, "titleBaseline": "alphabetic"}},
  "y2": {"datum": 0}}},
{"data": {"name": "arcs"}, "transform": [{"filter": "datum.s == 4"}], "mark": {"type": "line", "interpolate": "monotone", "color": "#FF8800"},
 "encoding": {"x": {"field": "pos", "type": "quantitative"}, "y": {"field": "y", "type": "quantitative"}, "detail": {"field": "j", "type": "nominal"}, "strokeWidth": {"field": "n", "type": "quantitative", "scale": {"domain": [0, 160], "range": [0.8, 5.1]}, "legend": null}}},
{"data": {"name": "arcs"}, "transform": [{"filter": "datum.s == 4 && datum.t == 0.5 && datum.n >= 100"}], "mark": {"type": "point", "shape": "M-1,-0.679H1V0.679H-1Z", "size": 12544, "filled": true, "color": "white", "opacity": 1, "strokeWidth": 0},
 "encoding": {"x": {"field": "pos", "type": "quantitative"}, "y": {"field": "y", "type": "quantitative"}}},
{"data": {"name": "arcs"}, "transform": [{"filter": "datum.s == 4 && datum.t == 0.5 && datum.n < 100"}], "mark": {"type": "point", "shape": "M-1,-0.809H1V0.809H-1Z", "size": 8836, "filled": true, "color": "white", "opacity": 1, "strokeWidth": 0},
 "encoding": {"x": {"field": "pos", "type": "quantitative"}, "y": {"field": "y", "type": "quantitative"}}},
{"data": {"name": "arcs"}, "transform": [{"filter": "datum.s == 4 && datum.t == 0.5"}], "mark": {"type": "text", "fontSize": 31, "color": "black", "align": "center", "baseline": "middle"},
 "encoding": {"x": {"field": "pos", "type": "quantitative"}, "y": {"field": "y", "type": "quantitative"}, "text": {"field": "n", "type": "nominal"}}},
{"data": {"values": [{}]}, "mark": {"type": "text", "text": "AFMID RBM25_HepG2_2014-10-16_KD/KO-2 IncLevel: 0.57", "fontSize": 44.5, "color": "#FF8800", "align": "right", "baseline": "alphabetic"},
 "encoding": {"x": {"datum": 76200980, "type": "quantitative"}, "y": {"datum": 134.3, "type": "quantitative"}}},
{"data": {"values": [{}]}, "mark": {"type": "rule", "strokeWidth": 4, "color": "black"},
 "encoding": {"x": {"datum": 76198784, "type": "quantitative"}, "y": {"datum": 0, "type": "quantitative"}, "y2": {"datum": 144}}}
]
}
]
},
{
"width": 1938, "height": 396,
"layer": [
{"data": {"name": "introns"}, "mark": {"type": "rule", "strokeWidth": 2.5, "color": "black"},
 "encoding": {"x": {"field": "start", "type": "quantitative", "scale": {"domain": [76198784, 76200980], "nice": false, "zero": false}, "axis": null}, "x2": {"field": "end"}, "y": {"field": "tx", "type": "nominal", "scale": {"type": "band", "domain": ["T1", "T2"], "paddingInner": 0, "paddingOuter": 0}, "axis": null}}},
{"data": {"name": "chev"}, "mark": {"type": "point", "shape": "M-0.67,-1L0,0L-0.67,1", "size": 729, "filled": false, "color": "black", "strokeWidth": 2.5, "opacity": 1},
 "encoding": {"x": {"field": "pos", "type": "quantitative", "axis": null}, "y": {"datum": "T1", "type": "nominal", "axis": null}}},
{"data": {"name": "chev"}, "mark": {"type": "point", "shape": "M-0.67,-1L0,0L-0.67,1", "size": 729, "filled": false, "color": "black", "strokeWidth": 2.5, "opacity": 1},
 "encoding": {"x": {"field": "pos", "type": "quantitative", "axis": null}, "y": {"datum": "T2", "type": "nominal", "axis": null}}},
{"data": {"name": "exons"}, "mark": {"type": "bar", "size": 60, "color": "black"},
 "encoding": {"x": {"field": "start", "type": "quantitative", "axis": null}, "x2": {"field": "end"}, "y": {"field": "tx", "type": "nominal", "axis": null}}}
]
}
]
}
